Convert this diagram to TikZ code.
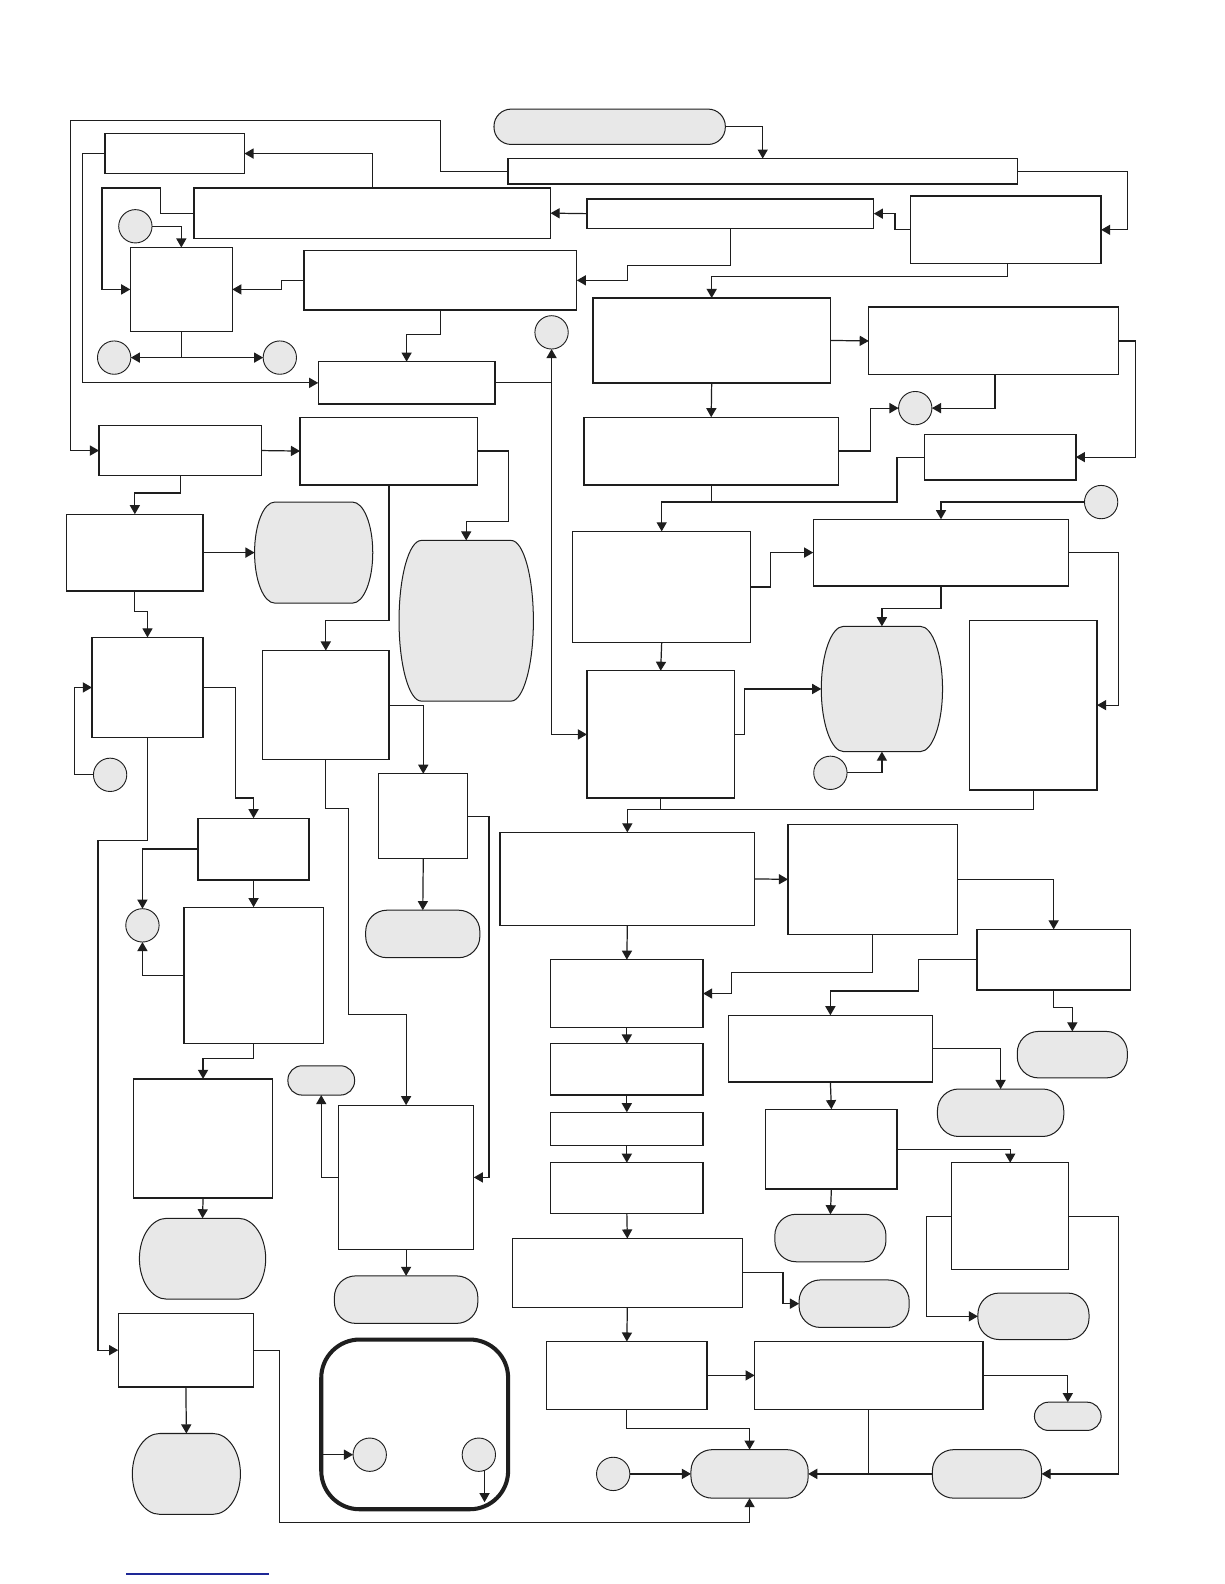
\documentclass[tikz,border=0pt]{standalone}
\usetikzlibrary{fit,calc,arrows.meta}
\definecolor{greyfill}{RGB}{232,232,232}
\definecolor{ink}{RGB}{30,30,30}
\tikzset{
  ln/.style={line width=0.6pt, draw=ink},
  arr/.style={ln, -{Triangle[length=4.5pt,width=5pt]}},
  dbl/.style={ln, {Triangle[length=4.5pt,width=5pt]}-{Triangle[length=4.5pt,width=5pt]}},
  box/.style={draw=ink, line width=0.65pt, fill=white, inner sep=0pt, outer sep=0pt},
  pill/.style={draw=ink, line width=0.5pt, fill=greyfill, inner sep=0pt, outer sep=0pt, rounded corners=#1},
  pill/.default=10.5pt,
  inv/.style={inner sep=0pt, outer sep=0pt},
  barrelstyle/.style={draw=ink, line width=0.5pt, fill=greyfill},
  circ/.style={circle, draw=ink, line width=0.45pt, fill=greyfill, minimum size=16.5pt, inner sep=0pt, outer sep=0pt},
}
\newcommand\drawbarrel[2]{%
  \filldraw[barrelstyle] let \p1=(#1.north), \p2=(#1.south), \n1={(\y1-\y2)/2} in
    ([xshift=#2]#1.north west) -- ([xshift=-#2]#1.north east)
    arc[start angle=90, end angle=-90, x radius=#2, y radius=\n1]
    -- ([xshift=#2]#1.south west)
    arc[start angle=270, end angle=90, x radius=#2, y radius=\n1] -- cycle;}
\begin{document}
\begin{tikzpicture}[x=0.5pt,y=-0.5pt]
\useasboundingbox (0,0) rectangle (1212,1568);
\fill[white] (0,0) rectangle (1212,1568);

% ---------- nodes: top area ----------
\node[pill=8.5pt, fit={(489,108) (718,143)}] (Tstart) {};
\node[box, fit={(503,157) (1007,182)}] (T1) {};
\node[box, fit={(901,194) (1090,261)}] (R1) {};
\node[box, fit={(581,197) (865,226)}] (T2) {};
\node[box, fit={(192,186) (545,236)}] (T3) {};
\node[box, fit={(104,132) (242,172)}] (A) {};
\node[box, fit={(129,245) (230,328)}] (B) {};
\node[box, fit={(301,248) (571,307)}] (T4) {};
\node[box, fit={(315,358) (490,400)}] (M1) {};
\node[box, fit={(587,295) (822,379)}] (Q) {};
\node[box, fit={(860,304) (1107,371)}] (R2) {};
\node[box, fit={(915,430) (1065,475)}] (R3) {};
\node[box, fit={(578,413) (830,480)}] (Q2) {};
\node[box, fit={(567,526) (743,636)}] (S) {};
\node[box, fit={(805,514) (1058,580)}] (U) {};
\node[box, fit={(960,614) (1086,782)}] (V) {};
\node[inv, fit={(813,620) (933,744)}] (G1) {};
\drawbarrel{G1}{11pt}
\node[box, fit={(581,664) (727,790)}] (P) {};

% ---------- right lower ----------
\node[box, fit={(495,824) (747,916)}] (W) {};
\node[box, fit={(780,816) (948,925)}] (X) {};
\node[box, fit={(967,920) (1119,980)}] (Y) {};
\node[box, fit={(545,950) (696,1017)}] (W2) {};
\node[box, fit={(721,1005) (923,1071)}] (Z) {};
\node[pill, fit={(1007,1021) (1116,1067)}] (g2) {};
\node[pill, fit={(928,1078) (1053,1125)}] (g3) {};
\node[box, fit={(758,1098) (888,1177)}] (Z2) {};
\node[box, fit={(942,1151) (1058,1257)}] (Z3) {};
\node[pill, fit={(767,1202) (877,1249)}] (g4) {};
\node[pill, fit={(968,1280) (1078,1326)}] (g5) {};
\node[pill, fit={(923,1435) (1031,1483)}] (g6) {};
\node[box, fit={(545,1033) (696,1084)}] (W3) {};
\node[box, fit={(545,1101) (696,1134)}] (W4) {};
\node[box, fit={(545,1151) (696,1201)}] (W5) {};
\node[box, fit={(507,1226) (735,1294)}] (W6) {};
\node[pill, fit={(791,1267) (900,1314)}] (g7) {};
\node[box, fit={(541,1328) (700,1395)}] (W7) {};
\node[box, fit={(747,1328) (973,1395)}] (W8) {};
\node[pill=7pt, fit={(1024,1388) (1090,1416)}] (g8) {};
\node[pill, fit={(684,1435) (800,1483)}] (E) {};

% ---------- left area ----------
\node[box, fit={(98,421) (259,471)}] (L1) {};
\node[box, fit={(297,413) (473,480)}] (L2) {};
\node[box, fit={(66,509) (201,585)}] (L3) {};
\node[inv, fit={(252,497) (369,597)}] (G2) {};
\drawbarrel{G2}{10pt}
\node[inv, fit={(395,535) (528,694)}] (G3) {};
\drawbarrel{G3}{11pt}
\node[box, fit={(91,631) (201,730)}] (L4) {};
\node[box, fit={(196,810) (306,871)}] (L5) {};
\node[box, fit={(117,1300) (251,1373)}] (K) {};
\node[box, fit={(260,644) (385,752)}] (L6) {};
\node[box, fit={(375,766) (463,850)}] (L7) {};
\node[box, fit={(335,1094) (469,1237)}] (L8) {};
\node[pill, fit={(362,901) (475,948)}] (g9) {};
\node[pill=7pt, fit={(285,1055) (351,1084)}] (g10) {};
\node[pill, fit={(331,1263) (473,1310)}] (g11) {};
\node[box, fit={(182,898) (320,1033)}] (L9) {};
\node[box, fit={(132,1068) (270,1186)}] (L10) {};
\node[inv, fit={(138,1206) (263,1286)}] (G4) {};
\drawbarrel{G4}{13.5pt}
\node[inv, fit={(131,1419) (238,1499)}] (G5) {};
\drawbarrel{G5}{13.5pt}
\node[draw=ink, line width=2pt, rounded corners=19pt, inner sep=0pt, outer sep=0pt, fit={(318,1326) (503,1494)}] (Big) {};

% ---------- circles ----------
\node[circ] (c1) at (134,224) {};
\node[circ] (c2) at (113,354) {};
\node[circ] (c3) at (277,354) {};
\node[circ] (c4) at (546,329) {};
\node[circ] (c5) at (906,404) {};
\node[circ] (c6) at (1090,497) {};
\node[circ] (c7) at (822,765) {};
\node[circ] (c8) at (607,1459) {};
\node[circ] (c9) at (109,767) {};
\node[circ] (c10) at (141,916) {};
\node[circ] (c11) at (366,1440) {};
\node[circ] (c12) at (474,1440) {};
\coordinate (cb) at (480,1487);

% ---------- connectors: top ----------
\draw[arr] (Tstart.east) -| (T1.north);
\draw[arr] (T1.west) -| (436,119) -| (70,446) -- (L1.west);
\draw[arr] (T1.east) -| (1116,227.5) -- (R1.east);
\draw[arr] (R1.west) -- ++(-15,0) |- (T2.east);
\draw[arr] (T2.west) -- (T3.east);
\draw[arr] (T3.north) |- (A.east);
\draw[arr] (A.west) -| (82,300) |- (M1.west);
\draw[arr] (T3.west) -| (159,186) -| (101,250) |- (B.west);
\draw[arr] (c1.east) -| (B.north);
\draw[arr] (723,0 |- T2.south) |- (621,263) |- (T4.east);
\draw[arr] (T4.west) -- ++(-22,0) |- (B.east);
\draw[ln] (B.south) -- (B.south |- c2.east);
\draw[dbl] (c2.east) -- (c3.west);
\draw[arr] (436,0 |- T4.south) -- (436,331) -| (M1.north);
\draw[arr] (M1.east) -| (c4.south);
\draw[arr] (c4.south |- M1.east) |- (P.west);
\draw[arr] (997,0 |- R1.south) -- (997,274) -| (Q.north);
\draw[arr] (Q.east) -- (R2.west);
\draw[arr] (R2.east) -| (1124,400) |- (R3.east);
\draw[arr] (985,0 |- R2.south) |- (c5.east);
\draw[arr] (Q.south) -- (Q2.north);
\draw[arr] (Q2.east) -- ++(32,0) |- (c5.west);
\draw[arr] (Q2.south) -- ++(0,17) -| (S.north);
\draw[ln] (R3.west) -| (888,497) -- (Q2.south |- 0,497);
\draw[arr] (c6.west) -| (U.north);
\draw[arr] (S.east) -- ++(20,0) |- (U.west);
\draw[arr] (U.east) -| (1107,650) |- (V.east);
\draw[arr] (U.south) -- ++(0,22) -| (G1.north);
\draw[arr] (S.south) -- (P.north);
\draw[arr] (P.east) -- ++(10,0) |- (G1.west);
\draw[arr] (c7.east) -| (G1.south);
\draw[arr] (P.south) -- ++(0,11) -| (W.north);
\draw[ln] (V.south) |- (P.south |- 0,801);

% ---------- connectors: right lower ----------
\draw[arr] (W.east) -- (X.west);
\draw[arr] (X.east) -| (Y.north);
\draw[arr] (X.south) |- (724,963) |- (W2.east);
\draw[arr] (W.south) -- (W2.north);
\draw[arr] (Y.west) -| (909,981) -| (Z.north);
\draw[arr] (Y.south) -- ++(0,17) -| (g2.north);
\draw[arr] (Z.east) -| (g3.north);
\draw[arr] (Z.south) -- (Z2.north);
\draw[arr] (Z2.east) -| (Z3.north);
\draw[arr] (Z2.south) -- (g4.north);
\draw[arr] (Z3.west) -| (917,1250) |- (g5.west);
\draw[arr] (Z3.east) -| (1107,1300) |- (g6.east);
\draw[arr] (W2.south) -- (W3.north);
\draw[arr] (W3.south) -- (W4.north);
\draw[arr] (W4.south) -- (W5.north);
\draw[arr] (W5.south) -- (W6.north);
\draw[arr] (W6.east) -- ++(40,0) |- (g7.west);
\draw[arr] (W6.south) -- (W7.north);
\draw[arr] (W7.east) -- (W8.west);
\draw[arr] (W8.east) -| (g8.north);
\draw[arr] (W8.south) |- (E.east);
\draw[ln] (g6.west) -- (W8.south |- g6.west);
\draw[arr] (W7.south) -- ++(0,19) -| (E.north);
\draw[arr] (c8.east) -- (E.west);
\draw[arr] (K.east) -| (277,1507) -| (E.south);

% ---------- connectors: left ----------
\draw[arr] (L1.east) -- (L2.west);
\draw[arr] (L1.south) -- ++(0,17) -| (L3.north);
\draw[arr] (L3.east) -- (G2.west);
\draw[arr] (L2.east) -| (503,516) -| (G3.north);
\draw[arr] (L3.south) -- ++(0,20) -| (L4.north);
\draw[arr] (c9.west) -| (74,700) |- (L4.west);
\draw[arr] (L4.east) -| (233,790) -| (L5.north);
\draw[arr] (L4.south) |- (97,832) |- (K.west);
\draw[arr] (L2.south) -- ++(0,134) -| (L6.north);
\draw[arr] (L6.east) -| (L7.north);
\draw[arr] (L6.south) -- ++(0,48) -| (345,1004) -| (L8.north);
\draw[arr] (L7.east) -| (484,1000) |- (L8.east);
\draw[arr] (L7.south) -- (g9.north);
\draw[arr] (L8.west) -| (g10.south);
\draw[arr] (L8.south) -- (g11.north);
\draw[arr] (L5.west) -| (c10.north);
\draw[arr] (L9.west) -| (c10.south);
\draw[arr] (L5.south) -- (L9.north);
\draw[arr] (L9.south) -- ++(0,15) -| (L10.north);
\draw[arr] (L10.south) -- (G4.north);
\draw[arr] (K.south) -- (G5.north);
\draw[arr] (Big.west |- c11.west) -- (c11.west);
\draw[arr] (c12.-70) -- (c12.-70 |- cb);

% ---------- blue rule at the foot ----------
\draw[draw={rgb,255:red,30;green,40;blue,150}, line width=0.6pt] (125,1558) -- (266,1558);
\end{tikzpicture}
\end{document}
